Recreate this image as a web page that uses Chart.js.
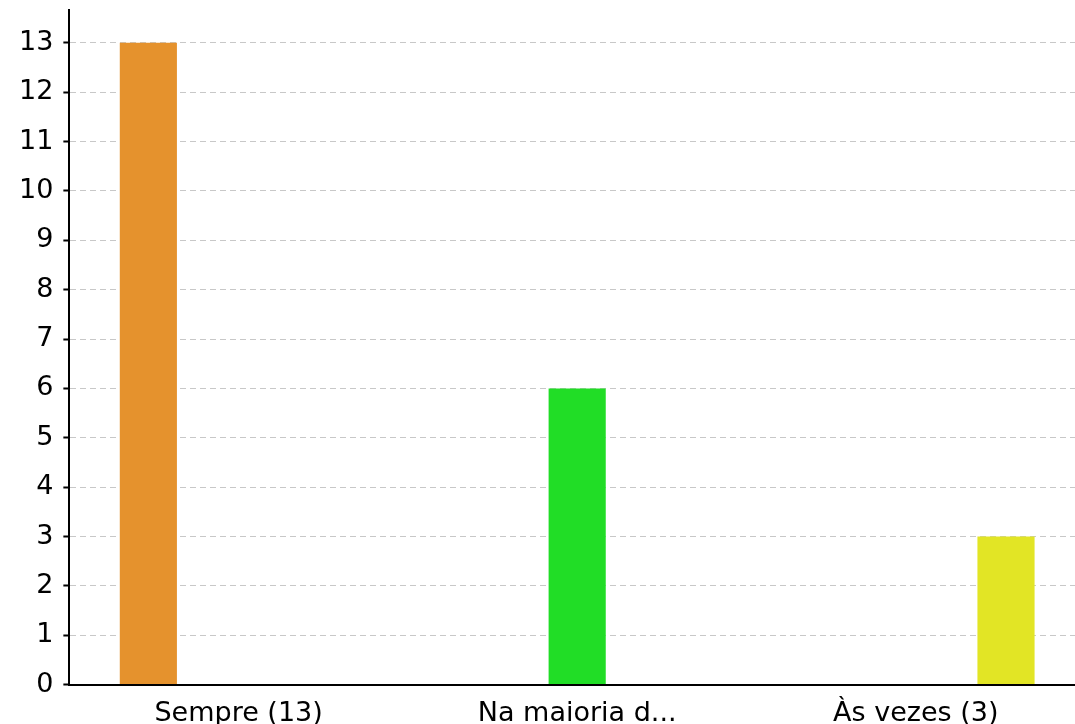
<!DOCTYPE html>
<html>
<head>
<meta charset="utf-8">
<script src="https://cdn.jsdelivr.net/npm/chart.js@4/dist/chart.umd.min.js"></script>
<style>
  html, body { margin: 0; padding: 0; overflow: hidden; background: #fff; }
  #wrap { position: absolute; left: 0; top: -16px; width: 1085px; height: 759px; }
</style>
</head>
<body>
<div id="wrap"><canvas id="chart"></canvas></div>
<script>
const categories = ["Sempre (13)", "Na maioria d...", "Às vezes (3)"];
const counts = [13, 6, 3];
const barColors = ["#E5922D", "#21DD26", "#E2E525"];
const yMax = 13.66;

// one dataset per answer, so each bar sits in its own slot of the group
const datasets = categories.map((name, i) => ({
  label: name,
  data: categories.map((_, j) => (j === i ? counts[i] : null)),
  backgroundColor: barColors[i],
  borderWidth: 0,
  categoryPercentage: 0.8,
  barPercentage: 0.633,
}));

new Chart(document.getElementById("chart"), {
  type: "bar",
  data: { labels: categories, datasets },
  options: {
    responsive: true,
    maintainAspectRatio: false,
    animation: false,
    layout: { padding: { left: 9, top: 10, right: 0, bottom: 0 } },
    plugins: { legend: { display: false }, tooltip: { enabled: false } },
    scales: {
      x: {
        grid: { display: false, drawTicks: false },
        border: { color: "#000", width: 2 },
        ticks: {
          color: "#000",
          padding: 13,
          maxRotation: 0,
          font: { family: "DejaVu Sans", size: 27 },
        },
      },
      y: {
        min: 0,
        max: yMax,
        grid: {
          color: "#c8c8c8",
          lineWidth: 1,
          tickColor: "#000",
          tickLength: 6,
          tickWidth: 2,
          tickBorderDash: [],
        },
        border: { color: "#000", width: 2, dash: [6, 4] },
        ticks: {
          stepSize: 1,
          includeBounds: false,
          color: "#000",
          padding: 10,
          font: { family: "DejaVu Sans", size: 27 },
        },
      },
    },
  },
});
</script>
</body>
</html>
